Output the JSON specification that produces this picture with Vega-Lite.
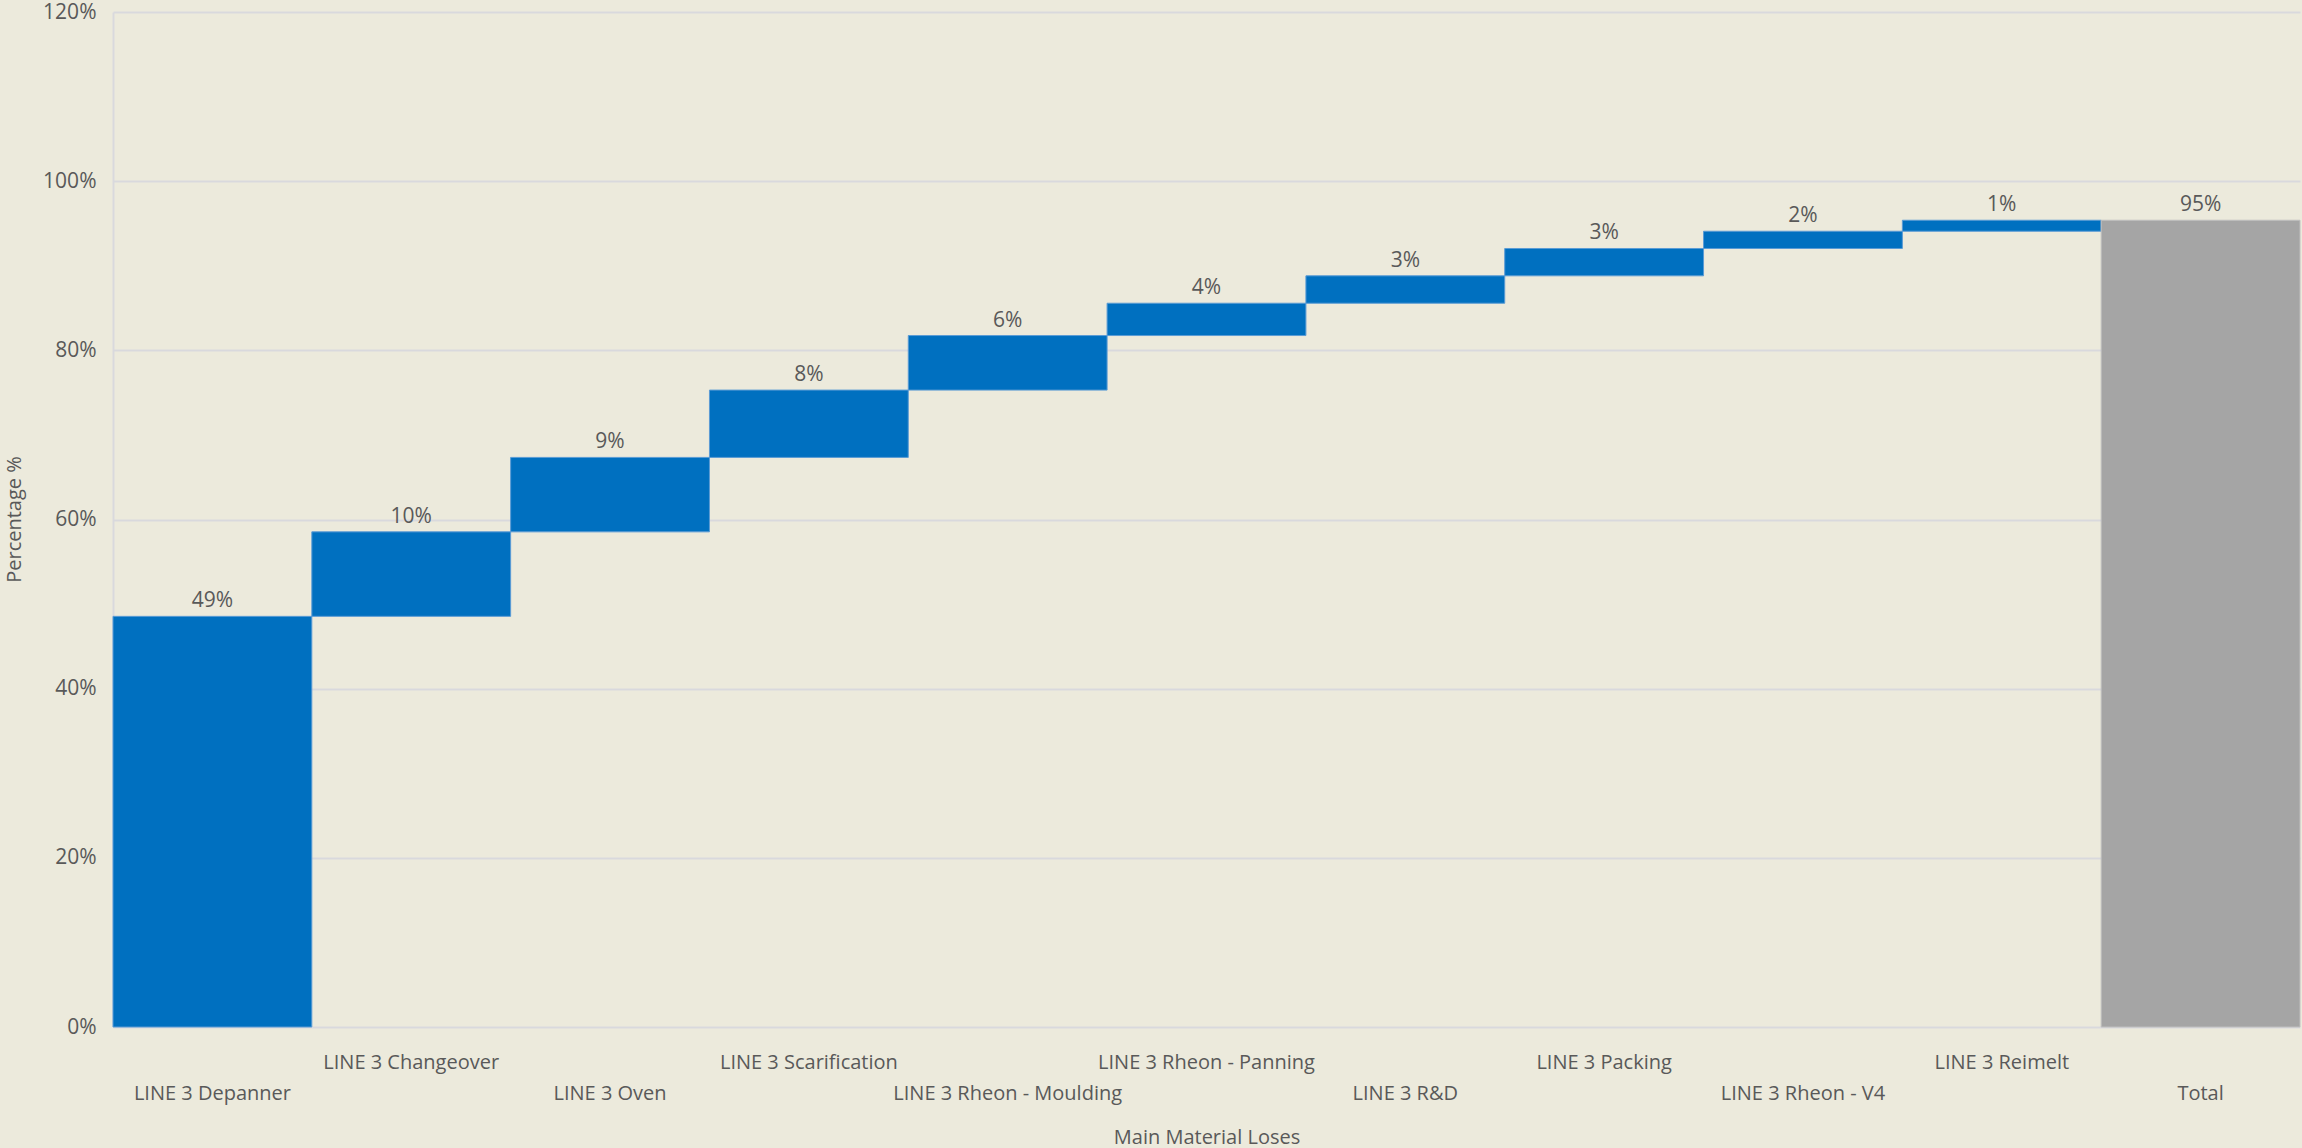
{
  "$schema": "https://vega.github.io/schema/vega-lite/v6.json",
  "autosize": "none",
  "padding": {"left": 113, "top": 12, "right": 2, "bottom": 121},
  "width": 2187,
  "height": 1015,
  "background": "#ECEADC",
  "config": {
    "view": {"stroke": null},
    "font": "Open Sans",
    "axis": {"labelFont": "Open Sans", "titleFont": "Open Sans", "labelColor": "#595959", "titleColor": "#595959", "titleFontWeight": "normal"}
  },
  "data": {
    "values": [
      {"category": "LINE 3 Depanner", "start": 0, "end": 0.4855, "value": 0.4855, "kind": "step"},
      {"category": "LINE 3 Changeover", "start": 0.4855, "end": 0.5854, "value": 0.0999, "kind": "step"},
      {"category": "LINE 3 Oven", "start": 0.5854, "end": 0.6734, "value": 0.088, "kind": "step"},
      {"category": "LINE 3 Scarification", "start": 0.6734, "end": 0.753, "value": 0.0796, "kind": "step"},
      {"category": "LINE 3 Rheon - Moulding", "start": 0.753, "end": 0.8175, "value": 0.0645, "kind": "step"},
      {"category": "LINE 3 Rheon - Panning", "start": 0.8175, "end": 0.8557, "value": 0.0382, "kind": "step"},
      {"category": "LINE 3 R&D", "start": 0.8557, "end": 0.8881, "value": 0.0324, "kind": "step"},
      {"category": "LINE 3 Packing", "start": 0.8881, "end": 0.9204, "value": 0.0323, "kind": "step"},
      {"category": "LINE 3 Rheon - V4", "start": 0.9204, "end": 0.9408, "value": 0.0204, "kind": "step"},
      {"category": "LINE 3 Reimelt", "start": 0.9408, "end": 0.9538, "value": 0.013, "kind": "step"},
      {"category": "Total", "start": 0, "end": 0.9538, "value": 0.9538, "kind": "total"}
    ]
  },
  "encoding": {
    "x": {
      "field": "category", "type": "nominal", "sort": null,
      "scale": {"paddingInner": 0, "paddingOuter": 0},
      "axis": {
        "title": "Main Material Loses", "labelAngle": 0, "ticks": false, "domain": false,
        "labelFontSize": 20, "titleFontSize": 20, "labelLimit": 0,
        "labelBaseline": "middle",
        "labelPadding": {"expr": "indexof(['LINE 3 Changeover','LINE 3 Scarification','LINE 3 Rheon - Panning','LINE 3 Packing','LINE 3 Reimelt'], datum.value) >= 0 ? 35 : 66"},
        "labelOverlap": false,
        "titleX": 1093.5, "titleY": 110, "titleBaseline": "middle", "titleAlign": "center"
      }
    }
  },
  "layer": [
    {
      "mark": {"type": "bar", "strokeWidth": 1},
      "encoding": {
        "y": {
          "field": "start", "type": "quantitative",
          "scale": {"domain": [0, 1.2], "nice": false},
          "axis": {
            "title": "Percentage %", "format": ".0%", "values": [0, 0.2, 0.4, 0.6, 0.8, 1.0, 1.2],
            "ticks": false, "domain": true, "domainColor": "#D9D9DD", "domainWidth": 2,
            "grid": true, "gridColor": "#D9D9DD", "gridWidth": 2,
            "labelFontSize": 21, "labelPadding": 17, "titleFontSize": 20,
            "titleX": -99, "titleY": 507, "titleAngle": -90, "titleBaseline": "middle", "titleAlign": "center"
          }
        },
        "y2": {"field": "end"},
        "color": {
          "field": "kind", "type": "nominal",
          "scale": {"domain": ["step", "total"], "range": ["#0070C0", "#A5A5A5"]},
          "legend": null
        },
        "stroke": {
          "field": "kind", "type": "nominal",
          "scale": {"domain": ["step", "total"], "range": ["#5A9BD5", "#BFBFBF"]},
          "legend": null
        }
      }
    },
    {
      "mark": {"type": "text", "baseline": "alphabetic", "dy": -9, "fontSize": 21, "color": "#595959", "font": "Open Sans"},
      "encoding": {
        "y": {"field": "end", "type": "quantitative"},
        "text": {"field": "value", "type": "quantitative", "format": ".0%"}
      }
    }
  ]
}
